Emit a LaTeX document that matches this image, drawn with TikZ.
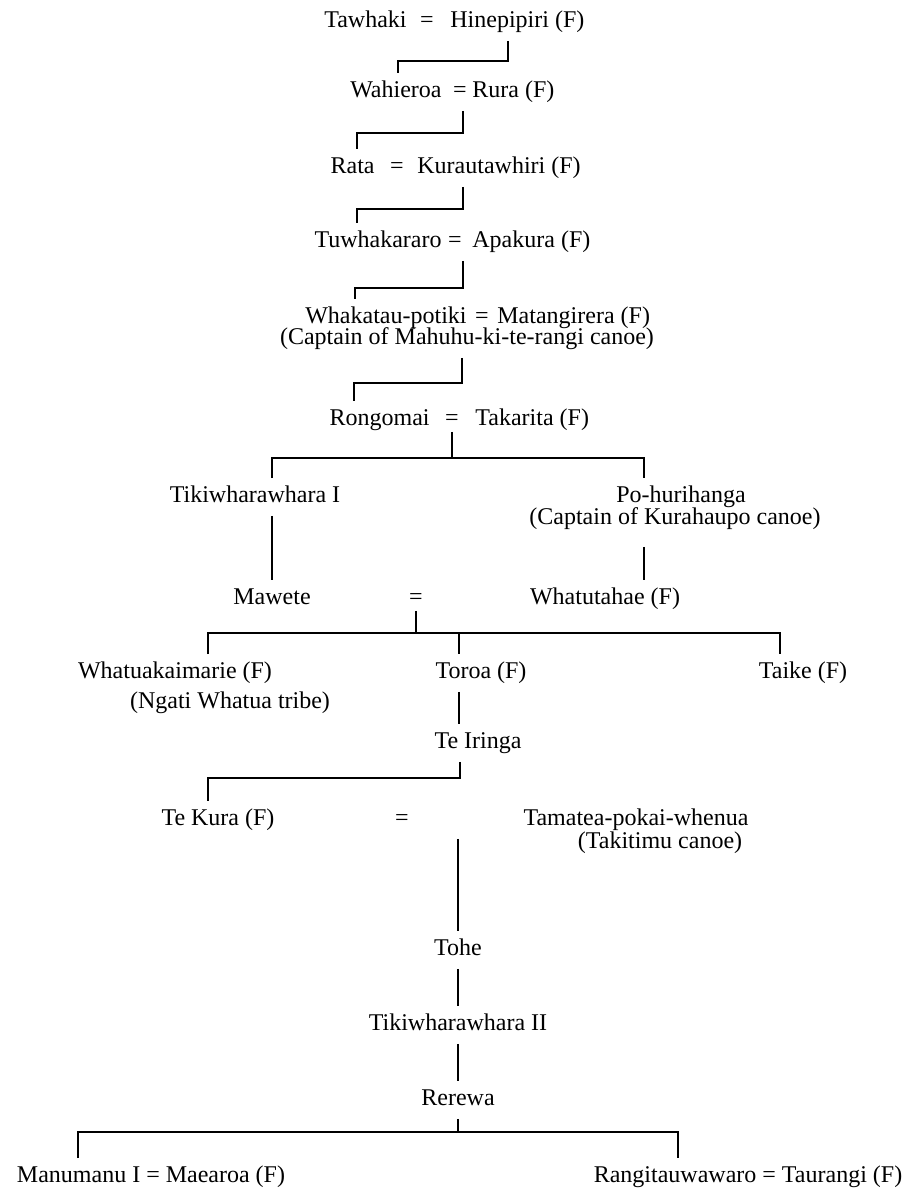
\documentclass[tikz,border=0pt]{standalone}
\usepackage{fontspec}
\setmainfont{Liberation Serif}

\tikzset{
    person/.style={inner xsep=0pt, inner ysep=0pt, text height=7.5pt, text depth=2pt,
        font=\fontsize{12}{14}\selectfont},
    link/.style={line width=0.9pt, shorten <=4.5pt, shorten >=4.5pt}
}

\begin{document}
\begin{tikzpicture}[x=0.5pt, y=-0.5pt]
        % Page frame (units are pixels, y grows downwards)
        \useasboundingbox (0,0) rectangle (918,1193);

        % Couples from Tawhaki down to Rongomai
        \node[person, anchor=east] (tawhaki) at (407,22) {Tawhaki};
        \node[person] (eqA) at (427,22) {=};
        \node[person, anchor=west] (hinepipiri) at (450,22) {Hinepipiri (F)};

        \node[person, anchor=east] (wahieroa) at (442,92) {Wahieroa};
        \node[person] (eqB) at (460,92) {=};
        \node[person, anchor=west] (rura) at (472,92) {Rura (F)};

        \node[person, anchor=east] (rata) at (375,168) {Rata};
        \node[person] (eqC) at (397,168) {=};
        \node[person, anchor=west] (kurautawhiri) at (417,168) {Kurautawhiri (F)};

        \node[person, anchor=east] (tuwhakararo) at (442,242) {Tuwhakararo};
        \node[person] (eqD) at (455,242) {=};
        \node[person, anchor=west] (apakura) at (472,242) {Apakura (F)};

        \node[person, anchor=east] (whakatau) at (467,318) {Whakatau-potiki};
        \node[person] (eqE) at (482,318) {=};
        \node[person, anchor=west] (matangirera) at (497,318) {Matangirera (F)};
        \node[person] (mahuhu) at (467,339) {(Captain of Mahuhu-ki-te-rangi canoe)};

        \node[person, anchor=east] (rongomai) at (430,420) {Rongomai};
        \node[person] (eqF) at (452,420) {=};
        \node[person, anchor=west] (takarita) at (475,420) {Takarita (F)};

        % Children of Rongomai
        \node[person] (tiki) at (255,497) {Tikiwharawhara I};
        \node[person] (pohurihanga) at (681,497) {Po-hurihanga};
        \node[person] (kurahaupo) at (675,519) {(Captain of Kurahaupo canoe)};

        \node[person] (mawete) at (272,599) {Mawete};
        \node[person] (eqG) at (416,599) {=};
        \node[person] (whatutahae) at (605,599) {Whatutahae (F)};

        % Children of Mawete
        \node[person] (whatuakaimarie) at (175,673) {Whatuakaimarie (F)};
        \node[person] (ngati) at (230,703) {(Ngati Whatua tribe)};
        \node[person] (toroa) at (481,673) {Toroa (F)};
        \node[person] (taike) at (803,673) {Taike (F)};

        \node[person] (teiringa) at (478,743) {Te Iringa};

        \node[person] (tekura) at (218,820) {Te Kura (F)};
        \node[person] (eqH) at (402,820) {=};
        \node[person] (tamatea) at (636,820) {Tamatea-pokai-whenua};
        \node[person] (takitimu) at (660,843) {(Takitimu canoe)};

        \node[person] (tohe) at (458,950) {Tohe};
        \node[person] (tiki2) at (458,1025) {Tikiwharawhara II};
        \node[person] (rerewa) at (458,1100) {Rerewa};

        \node[person] (manumanu) at (151,1177) {Manumanu I = Maearoa (F)};
        \node[person] (rangitauwawaro) at (748,1177) {Rangitauwawaro = Taurangi (F)};

        % Descent lines between the couples
        \draw[link] ([xshift=29pt]hinepipiri.south west) -- ++(0,29) -| ([xshift=-22pt]wahieroa.north east);
        \draw[link] ([xshift=1.5pt]eqB.south) -- ++(0,31) -| ([xshift=-9pt]rata.north east);
        \draw[link] ([xshift=23pt]kurautawhiri.south west) -- ++(0,31) -| ([xshift=-42.5pt]tuwhakararo.north east);
        \draw[link] ([xshift=4pt]eqD.south) -- ++(0,36) -| ([xshift=-56pt]whakatau.north east);
        \draw[link] ([xshift=-2.5pt]mahuhu.south) -- ++(0,34) -| ([xshift=-38pt]rongomai.north east);

        % Rongomai = Takarita
        \coordinate (barF) at ([yshift=-14pt]eqF.south);
        \draw[link, shorten <=1pt, shorten >=0pt] (eqF.south) -- (barF);
        \draw[link] ([xshift=8.5pt]tiki.north) |- (barF) -| ([xshift=-18.5pt]pohurihanga.north);
        \draw[link] (mawete.north |- tiki.south) -- (mawete.north);
        \coordinate (kdrop) at ([xshift=-15.5pt]kurahaupo.south);
        \draw[link, shorten <=9pt] (kdrop) -- (kdrop |- whatutahae.north);

        % Mawete = Whatutahae
        \coordinate (barG) at ([yshift=-12pt]eqG.south);
        \draw[link, shorten <=1pt, shorten >=0pt] (eqG.south) -- (barG);
        \draw[link] ([xshift=16.5pt]whatuakaimarie.north) |- (barG) -| ([xshift=-11.5pt]taike.north);
        \coordinate (toroatop) at ([xshift=-11pt]toroa.north);
        \coordinate (toroabot) at ([xshift=-11pt]toroa.south);
        \draw[link, shorten <=0pt] (toroatop |- barG) -- (toroatop);
        \draw[link] (toroabot) -- (toroabot |- teiringa.north);
        \draw[link] ([xshift=-9pt]teiringa.south) -- ++(0,25) -| ([xshift=-5pt]tekura.north);

        % Te Kura = Tamatea-pokai-whenua
        \draw[link] (tohe.north |- tekura.south) -- (tohe.north);
        \draw[link] (tohe.south) -- (tiki2.north);
        \draw[link] (tiki2.south) -- (rerewa.north);

        \coordinate (barR) at ([yshift=-11pt]rerewa.south);
        \draw[link, shorten >=0pt] (rerewa.south) -- (barR);
        \draw[link] ([xshift=-36.5pt]manumanu.north) |- (barR) -| ([xshift=-35pt]rangitauwawaro.north);
    \end{tikzpicture}
\end{document}
